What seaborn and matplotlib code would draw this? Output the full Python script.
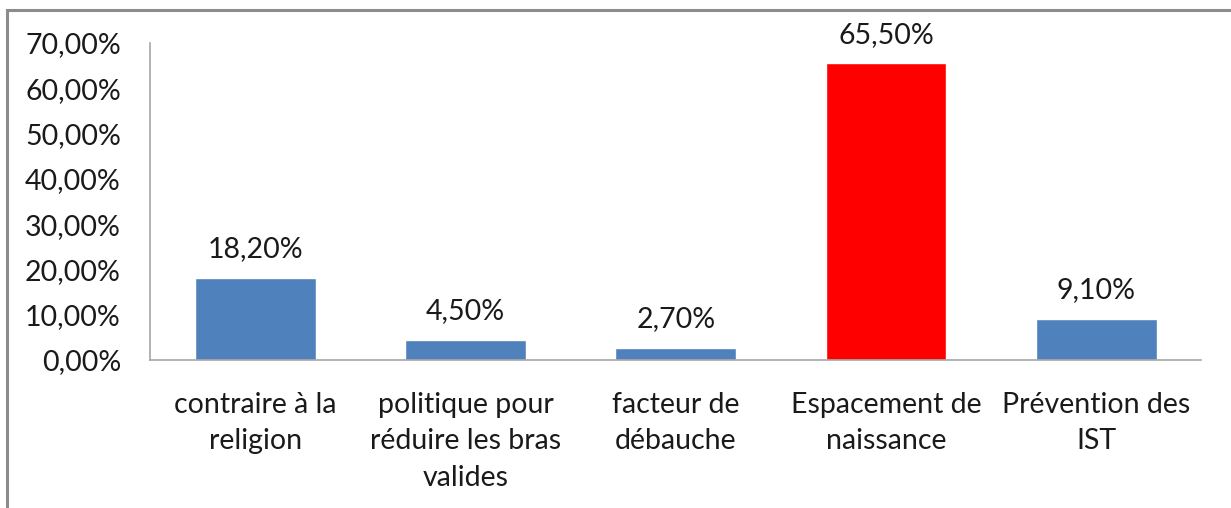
import matplotlib
matplotlib.use("Agg")
import matplotlib.pyplot as plt
from matplotlib.patches import Rectangle
from matplotlib.ticker import FuncFormatter
import pandas as pd
import seaborn as sns

categories = [
    "contraire à la\nreligion",
    "politique pour\nréduire les bras\nvalides",
    "facteur de\ndébauche",
    "Espacement de\nnaissance",
    "Prévention des\nIST",
]
values = [18.20, 4.50, 2.70, 65.50, 9.10]
bar_colors = ["#4F81BD", "#4F81BD", "#4F81BD", "#FF0000", "#4F81BD"]
y_ticks = [0, 10, 20, 30, 40, 50, 60, 70]

sns.set_theme(style="white")
plt.rcParams["font.family"] = ["Lato", "DejaVu Sans"]

df = pd.DataFrame({"cat": categories, "val": values})

fig = plt.figure(figsize=(12.31, 5.08), dpi=100)
ax = fig.add_axes([0.1219, 0.2913, 0.8540, 0.6241])

sns.barplot(data=df, x="cat", y="val", hue="cat", palette=bar_colors,
            width=0.575, legend=False, ax=ax, saturation=1)

ax.set_ylim(0, 70)
ax.set_yticks(y_ticks)
ax.yaxis.set_major_formatter(FuncFormatter(lambda v, p: f"{v:.2f}%".replace(".", ",")))
ax.set_xlabel("")
ax.set_ylabel("")

for s in ["top", "right"]:
    ax.spines[s].set_visible(False)
for s in ["left", "bottom"]:
    ax.spines[s].set_color("#A6A6A6")
    ax.spines[s].set_linewidth(1.2)

ax.tick_params(axis="y", length=0, pad=21, labelsize=20.5, labelcolor="#1a1a1a")
ax.tick_params(axis="x", length=0, pad=23, labelsize=20.5, labelcolor="#1a1a1a")
for lbl in ax.get_xticklabels():
    lbl.set_linespacing(1.5)

for i, v in enumerate(values):
    ax.annotate(f"{v:.2f}%".replace(".", ","), (i, v), xytext=(0, 11),
                textcoords="offset points", ha="center", va="bottom",
                fontsize=20.5, color="#1a1a1a")

# chart border like the spreadsheet frame
fig.patches.append(Rectangle((7 / 1231, -0.1), 1.2, 1 - 10 / 508 + 0.1,
                             transform=fig.transFigure, fill=False,
                             edgecolor="#8C8C8C", linewidth=2.2))

fig.savefig("out.png", dpi=100)
